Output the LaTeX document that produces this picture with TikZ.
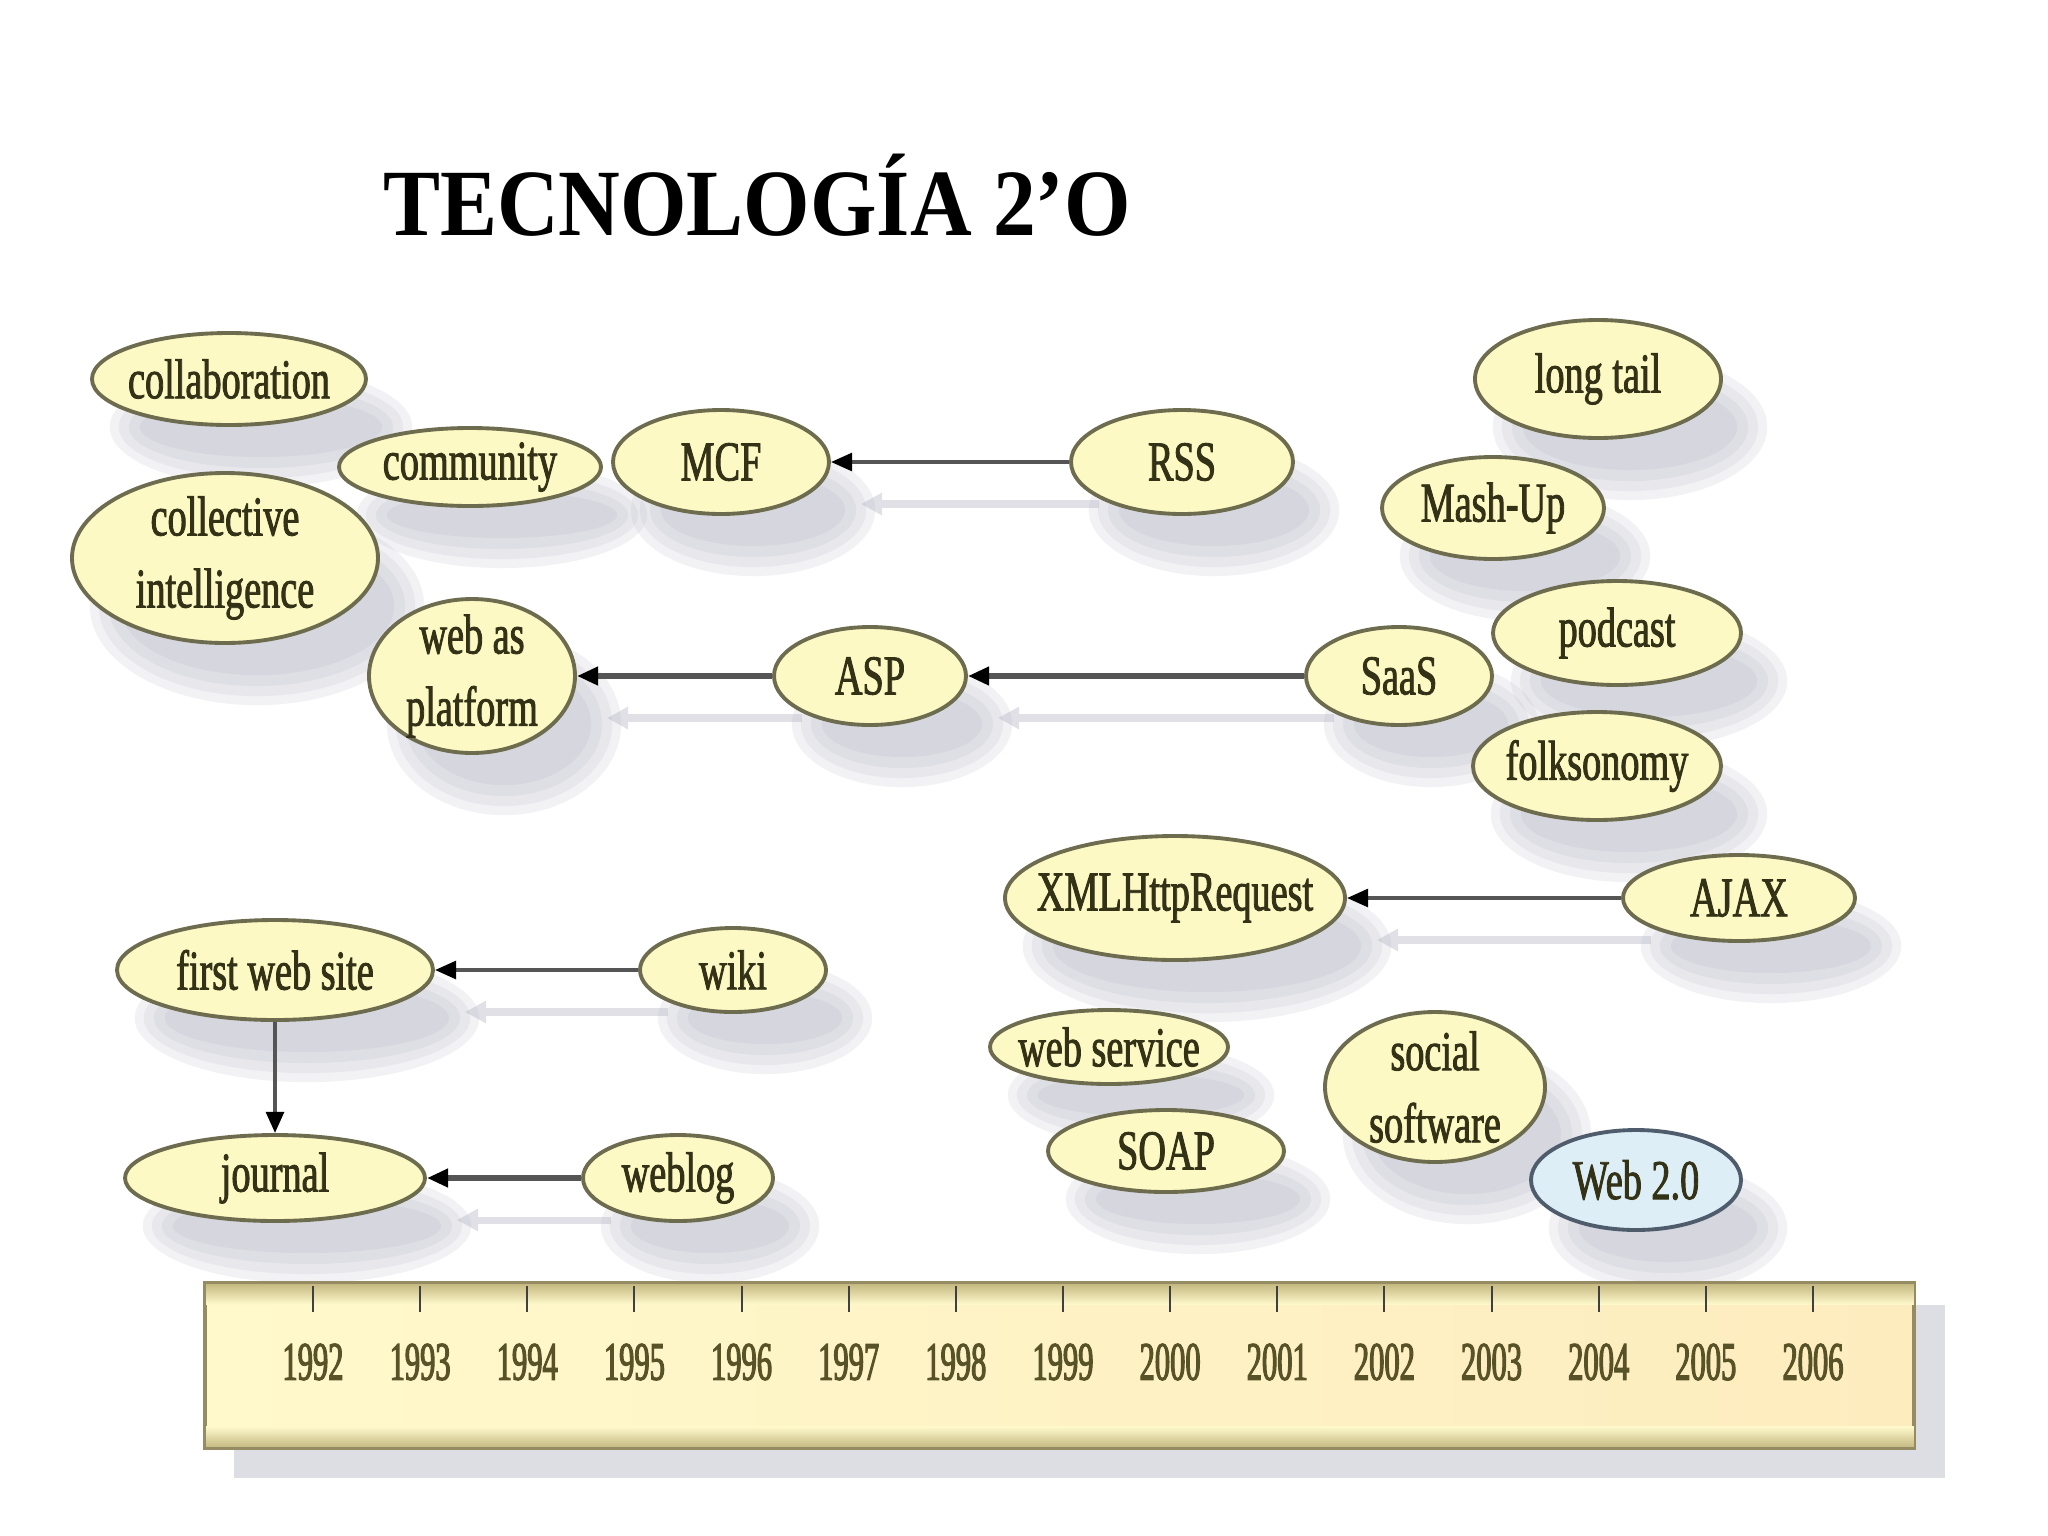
\documentclass[tikz,border=0pt]{standalone}
\usepackage{fontspec}
\setmainfont{Liberation Serif}
\newfontfamily\nodefont[FakeStretch=0.68,FakeBold=1.5]{Liberation Serif}
\newfontfamily\yearfont[FakeStretch=0.56,FakeBold=2]{Liberation Serif}
\newfontfamily\titlefont[FakeStretch=0.9]{Liberation Serif}
\usetikzlibrary{shapes.geometric,arrows.meta}
\pgfdeclarelayer{bgZ}
\pgfdeclarelayer{bgA}
\pgfdeclarelayer{bgB}
\pgfsetlayers{bgZ,bgA,bgB,main}
\definecolor{bubfill}{RGB}{252,249,196}
\definecolor{bubdraw}{RGB}{110,108,78}
\definecolor{txtc}{RGB}{52,50,22}
\definecolor{webfill}{RGB}{222,238,246}
\definecolor{webdraw}{RGB}{78,92,108}
\definecolor{lc}{RGB}{85,85,85}
\definecolor{shc}{RGB}{180,180,196}
\definecolor{shl}{RGB}{224,224,230}
\definecolor{barA}{RGB}{255,249,204}
\definecolor{barB}{RGB}{253,236,190}
\definecolor{barE}{RGB}{196,184,128}
\definecolor{barD}{RGB}{150,140,100}
\definecolor{yrc}{RGB}{88,82,40}
\tikzset{
  bub/.style={ellipse, draw=bubdraw, fill=bubfill, line width=1.1pt, inner sep=0pt},
  bluebub/.style={fill=webfill, draw=webdraw},
  bubtxt/.style={font=\nodefont\fontsize{16}{20.5}\selectfont, text=txtc, align=center, inner sep=0pt},
  conn/.style={draw=lc, line width=1.1pt, -{Triangle[length=6pt,width=5pt,color=black]}},
  connT/.style={conn, line width=1.8pt},
  shline/.style={draw=shl, line width=2pt, -{Triangle[length=6pt,width=6pt,color=shl]}},
  shd/.style={fill=shc, fill opacity=0.17},
  titlest/.style={font=\titlefont\bfseries\fontsize{27}{30}\selectfont, inner sep=0pt, anchor=base},
  yearst/.style={font=\yearfont\fontsize{15.5}{18}\selectfont, text=yrc, inner sep=0pt},
  tickst/.style={draw=black!75, line width=0.6pt},
}
% [extra]{name}{x}{y}{w}{h}{text}
\newcommand\bubble[7][]{%
  \begin{pgfonlayer}{bgB}
    \foreach \dd in {0.14,0.05,-0.05,-0.16}{
      \fill[shd] (#3+32,#4+48) ellipse [x radius={#5*0.005cm+\dd cm}, y radius={#6*0.005cm+\dd cm}];
    }
  \end{pgfonlayer}
  \node[bub,#1,minimum width={#5*0.01cm},minimum height={#6*0.01cm}] (#2) at (#3,#4) {};
  \node[bubtxt] (#2-t) at (#2) {#7};
}
\begin{document}
\begin{tikzpicture}[x=0.01cm,y=-0.01cm]
\useasboundingbox (0,0) rectangle (2048,1536);
\begin{pgfonlayer}{bgZ}
  \fill[white] (0,0) rectangle (2048,1536);
\end{pgfonlayer}

% title
\node[titlest, text=black] (title) at (757,235) {TECNOLOGÍA 2’O};

% bubbles
\bubble{collab}{229}{379}{274}{92}{collaboration}
\bubble{collect}{225}{558}{306}{170}{collective\\intelligence}
\bubble{community}{470}{467}{262}{78}{community}
\bubble{mcf}{721}{462}{216}{104}{MCF}
\bubble{rss}{1182}{462}{222}{104}{RSS}
\bubble{longtail}{1598}{379}{246}{118}{long tail}
\bubble{mashup}{1493}{508}{222}{102}{Mash-Up}
\bubble{podcast}{1617}{633}{248}{104}{podcast}
\bubble{saas}{1399}{676}{186}{98}{SaaS}
\bubble{folk}{1597}{766}{248}{108}{folksonomy}
\bubble{asp}{870}{676}{192}{98}{ASP}
\bubble{wap}{472}{676}{206}{154}{web as\\platform}
\bubble{xml}{1175}{898}{340}{124}{XMLHttpRequest}
\bubble{ajax}{1739}{898}{232}{86}{AJAX}
\bubble{fws}{275}{970}{316}{100}{first web site}
\bubble{wiki}{733}{970}{186}{84}{wiki}
\bubble{journal}{275}{1178}{300}{86}{journal}
\bubble{weblog}{678}{1178}{190}{86}{weblog}
\bubble{websvc}{1109}{1047}{238}{74}{web service}
\bubble{soap}{1166}{1151}{236}{82}{SOAP}
\bubble{social}{1435}{1087}{220}{150}{social\\software}
\bubble[bluebub]{web20}{1636}{1180}{210}{100}{Web 2.0}

% connector shadows
\begin{pgfonlayer}{bgA}
  \draw[shline] ([shift={(30,42)}]rss.west) -- ([shift={(30,42)}]mcf.east);
  \draw[shline] ([shift={(30,42)}]saas.west) -- ([shift={(30,42)}]asp.east);
  \draw[shline] ([shift={(30,42)}]asp.west) -- ([shift={(30,42)}]wap.east);
  \draw[shline] ([shift={(30,42)}]ajax.west) -- ([shift={(30,42)}]xml.east);
  \draw[shline] ([shift={(30,42)}]wiki.west) -- ([shift={(30,42)}]fws.east);
  \draw[shline] ([shift={(30,42)}]weblog.west) -- ([shift={(30,42)}]journal.east);
\end{pgfonlayer}

% connectors
\draw[conn] (rss) -- (mcf);
\draw[connT] (saas) -- (asp);
\draw[connT] (asp) -- (wap);
\draw[conn] (ajax) -- (xml);
\draw[conn] (wiki) -- (fws);
\draw[connT] (weblog) -- (journal);
\draw[conn] (fws) -- (journal);

% timeline bar
\node[rectangle, minimum width=17.07cm, minimum height=1.63cm, inner sep=0pt,
      left color=barA, right color=barB, draw=barD, line width=0.8pt] (bar) at (1059.5,1365.5) {};
\shade[top color=barE, bottom color=barA] ([shift={(1,1)}]bar.north west) rectangle ([shift={(-1,22)}]bar.north east);
\shade[top color=barA, bottom color=barE] ([shift={(1,-22)}]bar.south west) rectangle ([shift={(-1,-1)}]bar.south east);
\draw[barD, line width=0.8pt] (bar.north west) rectangle (bar.south east);
\begin{pgfonlayer}{bgB}
  \fill[shc, fill opacity=0.45] ([shift={(30,0)}]bar.south west) rectangle ([shift={(30,30)}]bar.south east);
  \fill[shc, fill opacity=0.45] ([shift={(0,22)}]bar.north east) rectangle ([shift={(30,0)}]bar.south east);
\end{pgfonlayer}
\foreach \i in {0,...,14}{
  \pgfmathsetmacro\xx{313+107.14*\i}
  \pgfmathtruncatemacro\yy{1992+\i}
  \draw[tickst] (\xx,1286) -- (\xx,1312);
  \node[yearst] (y\yy) at (\xx,1362) {\yy};
}
\end{tikzpicture}
\end{document}
